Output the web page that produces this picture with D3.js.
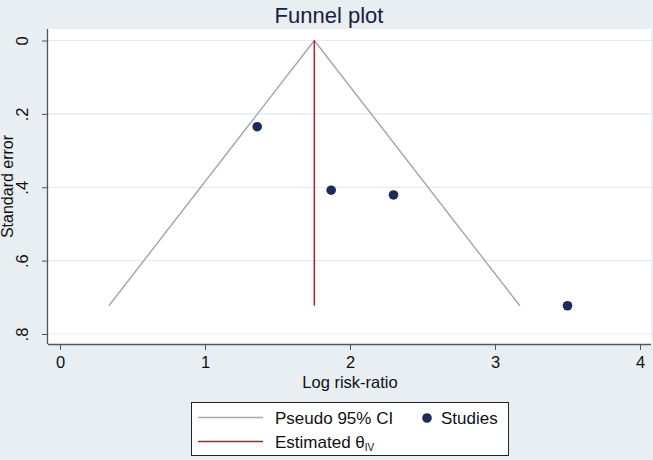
<!DOCTYPE html>
<html>
<head>
<meta charset="utf-8">
<script src="https://cdn.jsdelivr.net/npm/d3@7"></script>
<style>
  body { margin: 0; background: #e8eef1; }
  svg { display: block; font-family: "Liberation Sans", Arial, sans-serif; }
</style>
</head>
<body>
<svg id="chart" width="653" height="460"></svg>
<script>
// study estimates (log risk-ratio) and their standard errors
var logRR = [1.36, 1.87, 2.30, 3.50];
var stdErr = [0.235, 0.408, 0.421, 0.723];
var pooled = 1.754;
var xTicks = [0, 1, 2, 3, 4];
var yTicks = [0, 0.2, 0.4, 0.6, 0.8];

const svg = d3.select("#chart");
const W = 653, H = 460;
const plot = { left: 48, right: 651, top: 29, bottom: 344 };

const xScale = d3.scaleLinear().domain([0, 4]).range([60, 640]);
const yScale = d3.scaleLinear().domain([0, 0.8]).range([40.5, 334]);

svg.append("rect").attr("width", W).attr("height", H).attr("fill", "#e8eef1");
svg.append("rect").attr("x", plot.left).attr("y", plot.top)
  .attr("width", plot.right - plot.left).attr("height", plot.bottom - plot.top)
  .attr("fill", "#fff");

// horizontal grid
svg.append("g").selectAll("line").data(yTicks).enter().append("line")
  .attr("x1", plot.left).attr("x2", plot.right)
  .attr("y1", d => yScale(d)).attr("y2", d => yScale(d))
  .attr("stroke", "#e2eaed").attr("stroke-width", 1.2);

// pseudo 95% CI funnel
var maxSE = d3.max(stdErr);
var funnel = [[pooled - 1.96 * maxSE, maxSE], [pooled, 0], [pooled + 1.96 * maxSE, maxSE]];
svg.append("path")
  .attr("d", d3.line().x(d => xScale(d[0])).y(d => yScale(d[1]))(funnel))
  .attr("fill", "none").attr("stroke", "#a9a9a9").attr("stroke-width", 1.5);

// estimated theta
svg.append("line")
  .attr("x1", xScale(pooled)).attr("x2", xScale(pooled))
  .attr("y1", yScale(0)).attr("y2", yScale(maxSE))
  .attr("stroke", "#b0202f").attr("stroke-width", 1.5);

svg.append("g").selectAll("circle").data(logRR).enter().append("circle")
  .attr("cx", d => xScale(d))
  .attr("cy", (d, i) => yScale(stdErr[i]))
  .attr("r", 4.8).attr("fill", "#1c2b57");

// axes
const xAxis = svg.append("g").attr("transform", "translate(0," + plot.bottom + ")")
  .call(d3.axisBottom(xScale).tickValues(xTicks).tickSize(6).tickPadding(6).tickFormat(d3.format("d")));
xAxis.select(".domain").attr("d", "M" + plot.left + ",0.5H" + plot.right);

const yAxis = svg.append("g").attr("transform", "translate(" + plot.left + ",0)")
  .call(d3.axisLeft(yScale).tickValues(yTicks).tickSize(6)
    .tickFormat(d => d === 0 ? "0" : d3.format(".1f")(d).replace(/^0/, "")));
yAxis.select(".domain").attr("d", "M-0.5," + plot.top + "V" + plot.bottom);
yAxis.selectAll(".tick text")
  .attr("transform", "rotate(-90)").attr("x", 0).attr("y", -20)
  .attr("text-anchor", "middle").attr("dy", "0");

svg.selectAll(".domain").attr("stroke", "#555").attr("stroke-width", 1.3);
svg.selectAll(".tick line").attr("stroke", "#555");
svg.selectAll(".tick text").attr("font-size", 16.5).attr("fill", "#111")
  .attr("font-family", "Liberation Sans, Arial, sans-serif");

// titles
svg.append("text").attr("x", 329).attr("y", 23).attr("text-anchor", "middle")
  .attr("font-size", 22).attr("fill", "#1a2040").text("Funnel plot");
svg.append("text").attr("x", 350).attr("y", 388).attr("text-anchor", "middle")
  .attr("font-size", 16.5).attr("fill", "#111").text("Log risk-ratio");
svg.append("text").attr("transform", "translate(13," + ((plot.top + plot.bottom) / 2) + ") rotate(-90)")
  .attr("text-anchor", "middle").attr("font-size", 16).attr("fill", "#111").text("Standard error");

// legend
const lg = svg.append("g");
lg.append("rect").attr("x", 191.5).attr("y", 402.5).attr("width", 317).attr("height", 53)
  .attr("fill", "#fff").attr("stroke", "#222").attr("stroke-width", 1);
lg.append("line").attr("x1", 198).attr("x2", 263).attr("y1", 417.5).attr("y2", 417.5)
  .attr("stroke", "#a9a9a9").attr("stroke-width", 1.5);
lg.append("line").attr("x1", 198).attr("x2", 263).attr("y1", 441.5).attr("y2", 441.5)
  .attr("stroke", "#b0202f").attr("stroke-width", 1.5);
lg.append("circle").attr("cx", 427).attr("cy", 418).attr("r", 4.8).attr("fill", "#1c2b57");
lg.append("text").attr("x", 275).attr("y", 424).attr("font-size", 17).attr("fill", "#111").text("Pseudo 95% CI");
lg.append("text").attr("x", 441).attr("y", 424).attr("font-size", 17).attr("fill", "#111").text("Studies");
const est = lg.append("text").attr("x", 275).attr("y", 448).attr("font-size", 17).attr("fill", "#111");
est.append("tspan").text("Estimated \u03b8");
est.append("tspan").attr("font-size", 10).attr("dy", 3).text("IV");
</script>
</body>
</html>
